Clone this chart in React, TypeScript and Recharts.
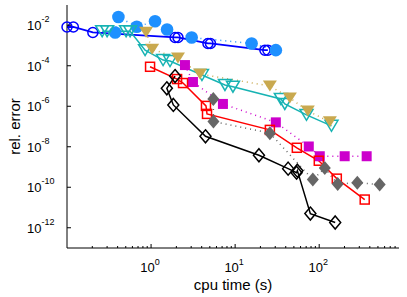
import { LineChart, Line, XAxis, YAxis } from 'recharts'

// cpu time (s) and rel. error for each method
const blueOpenTime = [0.1, 0.119, 0.203, 1.93, 2.09, 4.75, 5.09, 22.6, 24.5]
const blueOpenErr = [8.2e-3, 8.2e-3, 4.4e-3, 2.5e-3, 2.5e-3, 1.26e-3, 1.26e-3, 5.9e-4, 5.9e-4]

const lightBlueTime = [0.374, 0.409, 0.676, 1.115, 1.55, 3.04, 15.7, 30.5]
const lightBlueErr = [4.37e-3, 2.56e-2, 8.4e-3, 1.57e-2, 6.15e-3, 2.48e-3, 1.26e-3, 5.9e-4]

const cyanTime = [0.262, 0.3, 0.505, 0.563, 0.849, 1.39, 1.68, 4.03, 7.57, 9.42, 35.0, 39.0, 70.6, 140]
const cyanErr = [5.07e-3, 5.07e-3, 5.07e-3, 5.07e-3, 5.9e-4, 1.9e-4, 1.7e-4, 3.47e-5, 1.12e-5, 9.2e-6, 2.29e-6, 1.3e-6, 3.74e-7, 1.08e-7]

const goldTime = [0.872, 1.03, 2.09, 3.82, 25.9, 44.8, 73.2, 134]
const goldErr = [4.53e-3, 6.6e-4, 2.38e-4, 3.9e-5, 1.0e-5, 2.57e-6, 5.9e-7, 1.7e-7]

const magentaTime = [2.53, 3.15, 7.16, 30.5, 75.2, 101.6, 201, 367]
const magentaErr = [1.08e-4, 1.57e-5, 1.3e-6, 1.6e-7, 1.03e-8, 3.4e-9, 3.4e-9, 3.4e-9]

const redTime = [0.973, 2.04, 2.4, 4.5, 4.63, 25.9, 54.2, 98.9, 162, 348]
const redErr = [8.9e-5, 2.2e-5, 1.4e-5, 1.04e-6, 4.2e-7, 6.8e-8, 8.9e-9, 2.04e-9, 2.66e-10, 2.47e-11]

const grayTime = [5.5, 5.52, 25.9, 84, 116.6, 166, 284, 524]
const grayErr = [2.29e-6, 1.75e-7, 4.7e-8, 2.38e-10, 8.9e-10, 1.43e-10, 1.69e-10, 1.35e-10]

const blackTime = [1.93, 1.54, 1.84, 4.44, 19.2, 42.7, 53.8, 55, 78.5, 155]
const blackErr = [3.1e-5, 7.7e-6, 1.16e-6, 3.27e-8, 3.8e-9, 8.3e-10, 5.25e-10, 6.6e-10, 5.0e-12, 1.82e-12]

const xMajor = [1, 10, 100]
const xMinor = [
  0.2, 0.3, 0.4, 0.5, 0.6, 0.7, 0.8, 0.9,
  2, 3, 4, 5, 6, 7, 8, 9,
  20, 30, 40, 50, 60, 70, 80, 90,
  200, 300, 400, 500, 600, 700, 800,
]
const yMajor = [1e-12, 1e-10, 1e-8, 1e-6, 1e-4, 1e-2]

const zip = (xs: number[], ys: number[]) => xs.map((x, i) => ({ x, y: ys[i] }))

type Shape = 'circle' | 'triangle' | 'square' | 'diamond'

function marker(shape: Shape, color: string, filled: boolean, w: number, h = w) {
  return (p: any) => {
    const { cx, cy, index } = p
    if (cx == null || cy == null) return <g key={index} />
    const style = filled
      ? { fill: color, stroke: 'none' }
      : { fill: 'none', stroke: color, strokeWidth: 1.5 }
    if (shape === 'circle') return <circle key={index} cx={cx} cy={cy} r={w} {...style} />
    if (shape === 'square')
      return <rect key={index} x={cx - w} y={cy - w} width={w * 2} height={w * 2} {...style} />
    if (shape === 'triangle')
      return (
        <polygon
          key={index}
          points={`${cx - w},${cy - h} ${cx + w},${cy - h} ${cx},${cy + h}`}
          {...style}
        />
      )
    return (
      <polygon
        key={index}
        points={`${cx},${cy - h} ${cx + w},${cy} ${cx},${cy + h} ${cx - w},${cy}`}
        {...style}
      />
    )
  }
}

const XTick = ({ x, y, payload, side }: any) => {
  const v = payload.value
  const major = xMajor.includes(v)
  const len = major ? 4 : 2
  const dir = side === 'bottom' ? -1 : 1
  return (
    <g>
      <line x1={x} x2={x} y1={y} y2={y + dir * len} stroke="#000" />
      {major && side === 'bottom' && (
        <text x={x - 1} y={y + 24} textAnchor="middle" fontSize={13} fill="#000">
          <tspan>10</tspan>
          <tspan dy={-7} fontSize={9}>{Math.round(Math.log10(v))}</tspan>
        </text>
      )}
    </g>
  )
}

const YTick = ({ x, y, payload, side }: any) => {
  const v = payload.value
  const dir = side === 'left' ? 1 : -1
  return (
    <g>
      <line x1={x} x2={x + dir * 4} y1={y} y2={y} stroke="#000" />
      {side === 'left' && (
        <text x={x - 40} y={y + 5} textAnchor="start" fontSize={13} fill="#000">
          <tspan>10</tspan>
          <tspan dy={-8} fontSize={9}>{'-' + Math.round(-Math.log10(v))}</tspan>
        </text>
      )}
    </g>
  )
}

const xDomain = [0.1, 890]
const yDomain = [1e-13, 1e-1]
const xTicks = [...xMinor, ...xMajor].sort((a, b) => a - b)

export default function App() {
  return (
    <div
      style={{
        position: 'absolute',
        left: 0,
        top: 0,
        width: 407,
        height: 297,
        background: '#fff',
        fontFamily: '"Liberation Sans", Arial, sans-serif',
      }}
    >
      <LineChart width={407} height={297} margin={{ top: 5, right: 8, bottom: 0, left: 0 }}>
        <XAxis
          dataKey="x"
          type="number"
          scale="log"
          domain={xDomain}
          ticks={xTicks}
          interval={0}
          tickSize={0}
          tickMargin={0}
          height={49}
          axisLine={{ stroke: '#000' }}
          tick={(props: any) => <XTick {...props} side="bottom" />}
        />
        <XAxis
          xAxisId="top"
          orientation="top"
          dataKey="x"
          type="number"
          scale="log"
          domain={xDomain}
          ticks={xTicks}
          interval={0}
          tickSize={0}
          tickMargin={0}
          height={0}
          axisLine={{ stroke: '#000' }}
          tick={(props: any) => <XTick {...props} side="top" />}
        />
        <YAxis
          type="number"
          scale="log"
          domain={yDomain}
          ticks={yMajor}
          interval={0}
          tickSize={0}
          tickMargin={0}
          width={67}
          axisLine={{ stroke: '#000' }}
          tick={(props: any) => <YTick {...props} side="left" />}
        />
        <YAxis
          yAxisId="right"
          orientation="right"
          type="number"
          scale="log"
          domain={yDomain}
          ticks={yMajor}
          interval={0}
          tickSize={0}
          tickMargin={0}
          width={0}
          axisLine={{ stroke: '#000' }}
          tick={(props: any) => <YTick {...props} side="right" />}
        />

        <Line
          data={zip(blueOpenTime, blueOpenErr)}
          dataKey="y"
          stroke="#0000ff"
          strokeWidth={1.8}
          dot={marker('circle', '#0000ff', false, 5)}
          activeDot={false}
          isAnimationActive={false}
        />
        <Line
          data={zip(lightBlueTime, lightBlueErr)}
          dataKey="y"
          stroke="#1e90ff"
          strokeWidth={1.5}
          strokeDasharray="1 4"
          dot={marker('circle', '#1e90ff', true, 6.3)}
          activeDot={false}
          isAnimationActive={false}
        />
        <Line
          data={zip(cyanTime, cyanErr)}
          dataKey="y"
          stroke="#17b3b3"
          strokeWidth={1.5}
          dot={marker('triangle', '#17b3b3', false, 6.5, 5.5)}
          activeDot={false}
          isAnimationActive={false}
        />
        <Line
          data={zip(goldTime, goldErr)}
          dataKey="y"
          stroke="#c9a94f"
          strokeWidth={1.5}
          strokeDasharray="1 4"
          dot={marker('triangle', '#c9a94f', true, 7, 5.5)}
          activeDot={false}
          isAnimationActive={false}
        />
        <Line
          data={zip(magentaTime, magentaErr)}
          dataKey="y"
          stroke="#cc00cc"
          strokeWidth={1.5}
          strokeDasharray="1 4"
          dot={marker('square', '#cc00cc', true, 5)}
          activeDot={false}
          isAnimationActive={false}
        />
        <Line
          data={zip(redTime, redErr)}
          dataKey="y"
          stroke="#ff0000"
          strokeWidth={1.5}
          dot={marker('square', '#ff0000', false, 4.5)}
          activeDot={false}
          isAnimationActive={false}
        />
        <Line
          data={zip(grayTime, grayErr)}
          dataKey="y"
          stroke="#666666"
          strokeWidth={1.5}
          strokeDasharray="1 4"
          dot={marker('diamond', '#666666', true, 6, 7)}
          activeDot={false}
          isAnimationActive={false}
        />
        <Line
          data={zip(blackTime, blackErr)}
          dataKey="y"
          stroke="#000000"
          strokeWidth={1.5}
          dot={marker('diamond', '#000000', false, 5.5, 6.5)}
          activeDot={false}
          isAnimationActive={false}
        />
      </LineChart>
      <svg
        width={407}
        height={297}
        style={{ position: 'absolute', left: 0, top: 0, pointerEvents: 'none' }}
      >
        <text x={233} y={289.5} textAnchor="middle" fontSize={15} fill="#000">
          cpu time (s)
        </text>
        <text
          x={20}
          y={126.5}
          textAnchor="middle"
          fontSize={15}
          fill="#000"
          transform="rotate(-90 20 126.5)"
        >
          rel. error
        </text>
      </svg>
    </div>
  )
}
